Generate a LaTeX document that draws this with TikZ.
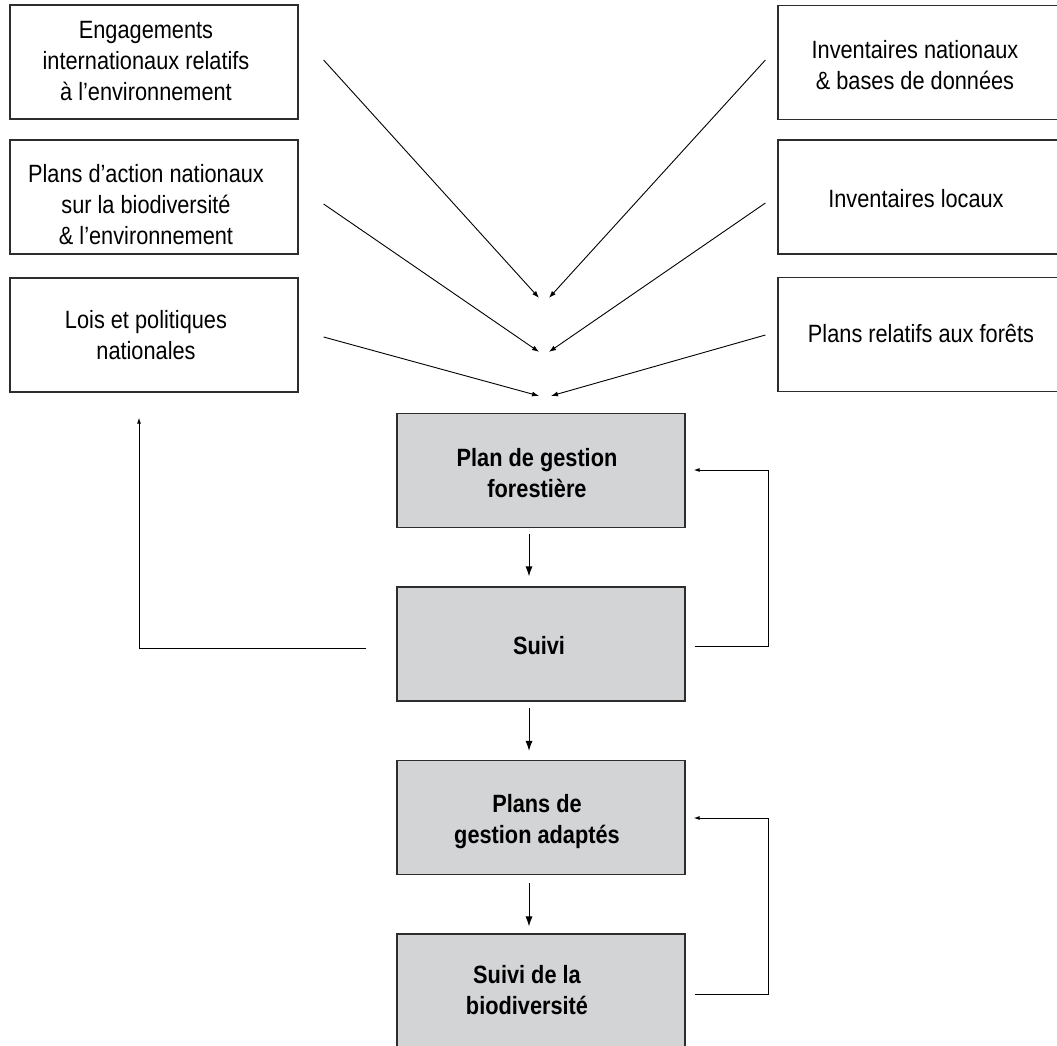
\documentclass[tikz,border=0pt]{standalone}
\usepackage{fontspec}
\setmainfont{Liberation Sans}
\newfontfamily\narrowsans[FakeStretch=0.87]{Liberation Sans}
\usetikzlibrary{arrows.meta,calc}
\definecolor{boxgray}{RGB}{211,212,214}
\definecolor{edgecol}{RGB}{45,45,45}
\tikzset{
  wbox/.style={draw=edgecol,line width=1.2pt,fill=white,inner sep=0pt,minimum width=288pt,minimum height=114pt},
  rbox/.style={draw=edgecol,line width=1.2pt,fill=white,inner sep=0pt,minimum width=284pt,minimum height=114pt},
  gbox/.style={draw=edgecol,line width=1.2pt,fill=boxgray,inner sep=0pt,minimum width=288pt,minimum height=114pt},
  wtxt/.style={inner sep=0pt,align=center,font=\narrowsans\fontsize{25}{31}\selectfont},
  btxt/.style={inner sep=0pt,align=center,font=\narrowsans\bfseries\fontsize{25}{31}\selectfont},
  conv/.style={draw=black,line width=0.9pt,-{Latex[length=7pt,width=5pt]}},
  down/.style={draw=black,line width=1pt,-{Latex[length=10pt,width=7pt]}},
  fb/.style={draw=black,line width=1pt,-{Latex[length=6pt,width=4pt]}}
}
\begin{document}
\begin{tikzpicture}[x=1pt,y=-1pt]
\useasboundingbox (0,0) rectangle (1057,1046);
\clip (0,0) rectangle (1057,1046);

% left boxes
\node[wbox] (L1) at (154,62) {};
\node[wbox] (L2) at (154,197) {};
\node[wbox] (L3) at (154,335) {};
\node[wtxt] (L1t) at (146,61) {Engagements\\internationaux relatifs\\à l’environnement};
\node[wtxt] (L2t) at (146,205) {Plans d’action nationaux\\sur la biodiversité\\ \& l’environnement};
\node[wtxt] (L3t) at (146,335) {Lois et politiques\\nationales};

% right boxes
\node[rbox] (R1) at (920,62.5) {};
\node[rbox] (R2) at (920,197) {};
\node[rbox] (R3) at (920,334.5) {};
\node[wtxt] (R1t) at (915,65) {Inventaires nationaux\\ \& bases de données};
\node[wtxt] (R2t) at (916,199) {Inventaires locaux};
\node[wtxt] (R3t) at (921,334) {Plans relatifs aux forêts};

% centre boxes
\node[gbox] (C1) at (541,470.5) {};
\node[gbox] (C2) at (541,644) {};
\node[gbox] (C3) at (541,817.5) {};
\node[gbox,minimum height=118pt] (C4) at (541,993) {};
\node[btxt] (C1t) at (537,473.4) {Plan de gestion\\forestière};
\node[btxt] (C2t) at (539,645.7) {Suivi};
\node[btxt] (C3t) at (537,822) {Plans de\\gestion adaptés};
\node[btxt] (C4t) at (527,990) {Suivi de la\\biodiversité};

% converging arrows
\coordinate (L1o) at ($(L1.east)+(25,-2)$);
\coordinate (L2o) at ($(L2.east)+(25,7)$);
\coordinate (L3o) at ($(L3.east)+(25,2)$);
\coordinate (R1o) at ($(R1.west)+(-12,-2.5)$);
\coordinate (R2o) at ($(R2.west)+(-12,6)$);
\coordinate (R3o) at ($(R3.west)+(-12,0.5)$);
\coordinate (T1l) at ($(C1.north)+(-2,-115)$);
\coordinate (T1r) at ($(C1.north)+(8,-115)$);
\coordinate (T2l) at ($(C1.north)+(-2,-61)$);
\coordinate (T2r) at ($(C1.north)+(8,-61)$);
\coordinate (T3l) at ($(C1.north)+(-2,-17)$);
\coordinate (T3r) at ($(C1.north)+(10,-17)$);
\draw[conv] (L1o) -- (T1l);
\draw[conv] (R1o) -- (T1r);
\draw[conv] (L2o) -- (T2l);
\draw[conv] (R2o) -- (T2r);
\draw[conv] (L3o) -- (T3l);
\draw[conv] (R3o) -- (T3r);

% vertical arrows
\draw[down] ($(C1.south)+(-12,6)$) -- ($(C2.north)+(-12,-10)$);
\draw[down] ($(C2.south)+(-12,6)$) -- ($(C3.north)+(-12,-9)$);
\draw[down] ($(C3.south)+(-12,8)$) -- ($(C4.north)+(-12,-7)$);

% feedback loops
\coordinate (F1s) at ($(C2.east)+(9,2)$);
\coordinate (F1e) at ($(C1.east)+(8,-0.5)$);
\draw[fb] (F1s) -- ++(74,0) |- (F1e);
\coordinate (F2s) at ($(C4.east)+(9,1)$);
\coordinate (F2e) at ($(C3.east)+(8,0.5)$);
\draw[fb] (F2s) -- ++(74,0) |- (F2e);
\coordinate (F3s) at ($(C2.west)+(-30,4)$);
\coordinate (F3e) at ($(L3.south)+(-15,25)$);
\draw[fb] (F3s) -| (F3e);
\end{tikzpicture}
\end{document}
